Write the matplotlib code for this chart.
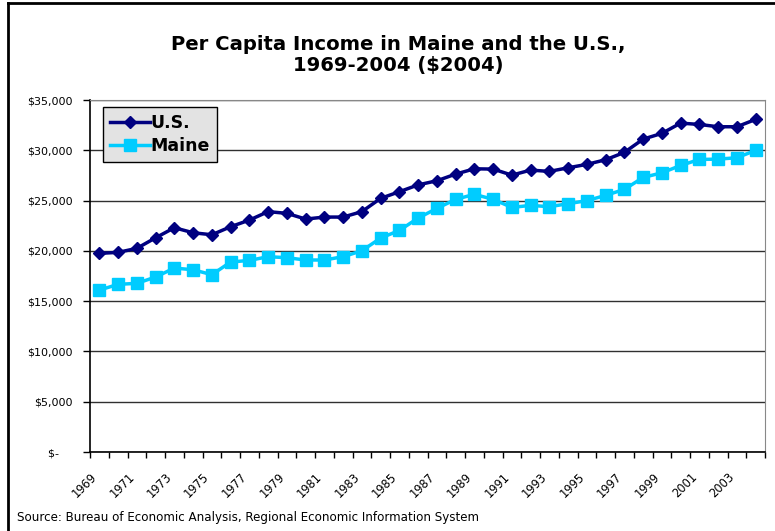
import matplotlib.pyplot as plt
from matplotlib.lines import Line2D
from matplotlib.ticker import FuncFormatter
from matplotlib.transforms import ScaledTranslation

years = list(range(1969, 2005))
us = [19750, 19850, 20250, 21300, 22300, 21800, 21600, 22400, 23060, 23900,
      23730, 23160, 23360, 23360, 23900, 25220, 25880, 26560, 26970, 27630,
      28160, 28130, 27530, 28030, 27900, 28260, 28600, 29060, 29790, 31110,
      31680, 32700, 32570, 32340, 32340, 33070]
maine = [16100, 16670, 16770, 17400, 18290, 18120, 17630, 18890, 19050, 19420,
         19320, 19090, 19090, 19420, 20010, 21270, 22030, 23260, 24220, 25120,
         25620, 25120, 24320, 24520, 24390, 24690, 24990, 25520, 26110, 27300,
         27760, 28490, 29090, 29120, 29260, 29990]
y_ticks = [0, 5000, 10000, 15000, 20000, 25000, 30000, 35000]

W, H = 775, 531
fig = plt.figure(figsize=(W / 100, H / 100), dpi=100)
ax = fig.add_axes([90 / W, (H - 452) / H, 675 / W, 352 / H])

x = list(range(len(years)))
ax.plot(x, us, color='#000080', lw=2.5, marker='D', ms=6.5, label='U.S.')
ax.plot(x, maine, color='#00CCFF', lw=2.5, marker='s', ms=8, label='Maine')

ax.set_xlim(-0.5, len(years) - 0.5)
ax.set_ylim(0, 35000)

# y axis
ax.set_yticks(y_ticks)
ax.yaxis.set_major_formatter(FuncFormatter(
    lambda v, p: '$-    ' if v == 0 else '${:,.0f}'.format(v)))
ax.tick_params(axis='y', length=5, width=1, pad=7.5, labelsize=8, colors='black')
ax.grid(axis='y', color='#303030', lw=1)
ax.set_axisbelow(True)

# x axis: ticks between categories, labels every other year
ax.set_xticks([i - 0.5 for i in range(len(years) + 1)])
ax.set_xticklabels([])
ax.tick_params(axis='x', which='major', length=4, width=1)
ax.set_xticks(x[::2], minor=True)
ax.set_xticklabels([str(y) for y in years[::2]], minor=True, rotation=45,
                   ha='right', va='top', rotation_mode='anchor', fontsize=8.3)
ax.tick_params(axis='x', which='minor', length=0, pad=13)
shift = ScaledTranslation(-9 / 100, 0, fig.dpi_scale_trans)
for lab in ax.get_xticklabels(minor=True):
    lab.set_transform(lab.get_transform() + shift)

for s in ['top', 'right']:
    ax.spines[s].set_color('#888888')
for s in ['left', 'bottom']:
    ax.spines[s].set_color('black')
    ax.spines[s].set_linewidth(1.2)

leg = ax.legend(loc='upper left', bbox_to_anchor=(103 / W, 1 - 107 / H),
                bbox_transform=fig.transFigure, fancybox=False,
                facecolor='#E3E3E3', edgecolor='black', framealpha=1,
                prop={'weight': 'bold', 'size': 12.5}, handlelength=2.3,
                handletextpad=0.05, borderpad=0.4, labelspacing=0.3,
                borderaxespad=0)
leg.get_frame().set_linewidth(1)

fig.text(398 / W, 1 - 75 / H, 'Per Capita Income in Maine and the U.S.,\n1969-2004 ($2004)',
         ha='center', va='bottom', fontsize=14.1, fontweight='bold',
         linespacing=1.15)
fig.text(17 / W, 1 - 517 / H, 'Source: Bureau of Economic Analysis, Regional Economic Information System',
         ha='left', va='center', fontsize=8.6)

# outer chart border (left and top visible)
fig.add_artist(Line2D([8 / W, 8 / W], [0, 1 - 3 / H], color='black', lw=2))
fig.add_artist(Line2D([8 / W, 1], [1 - 3 / H, 1 - 3 / H], color='black', lw=2))

fig.savefig('out.png', dpi=100)
